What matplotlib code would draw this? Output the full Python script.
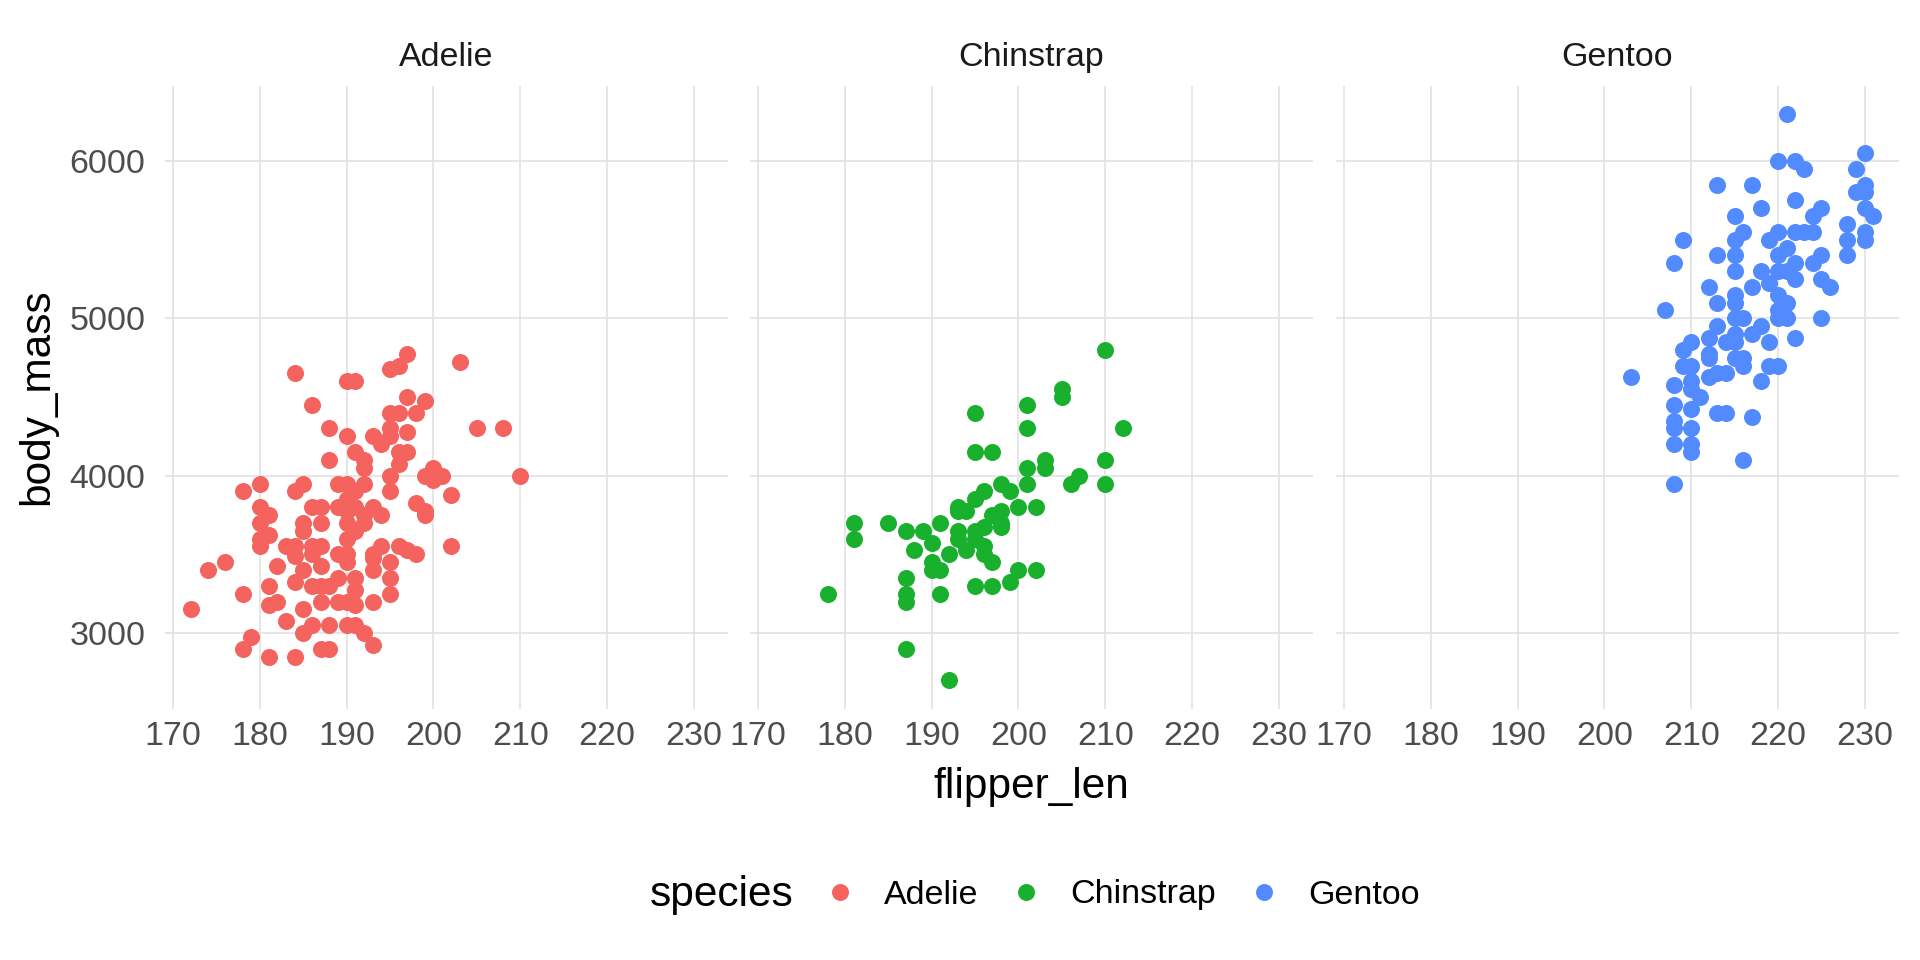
import matplotlib
matplotlib.use("Agg")
import matplotlib.pyplot as plt
from matplotlib.lines import Line2D

plt.rcParams['font.family'] = ['Liberation Sans', 'DejaVu Sans']

# Dados (flipper_len, body_mass) por espécie
species = ['Adelie', 'Chinstrap', 'Gentoo']
colors = ['#F4635E', '#19B02E', '#528AFF']

adelie_flipper = [184, 186, 188, 188, 180, 178, 184, 185, 189, 180, 186, 187, 189, 181,
                  180, 185, 187, 181, 180, 185, 180, 183, 184, 186, 187, 184, 186, 189,
                  187, 176, 174, 182, 185, 184, 181, 186, 187, 188, 189, 178, 172, 181,
                  182, 183, 185, 187, 189, 185, 186, 188, 179, 178, 181, 184, 187, 188,
                  197, 196, 195, 203, 190, 191, 197, 199, 198, 195, 196, 190, 205, 208,
                  193, 194, 195, 195, 197, 191, 192, 192, 196, 197, 196, 195, 192, 195,
                  199, 200, 200, 201, 210, 202, 198, 199, 199, 190, 190, 191, 190, 190,
                  193, 194, 192, 194, 193, 196, 197, 198, 202, 193, 193, 195, 190, 191,
                  191, 195, 195, 190, 191, 193, 190, 191, 192, 193, 191, 190, 191, 192, 190]
adelie_mass = [4650, 4450, 4300, 4100, 3950, 3900, 3900, 3950, 3950, 3800, 3800, 3800, 3800, 3750,
               3700, 3700, 3700, 3625, 3600, 3650, 3550, 3550, 3550, 3550, 3550, 3490, 3500, 3500,
               3425, 3450, 3400, 3425, 3400, 3325, 3300, 3300, 3300, 3300, 3350, 3250, 3150, 3175,
               3200, 3075, 3150, 3200, 3200, 3000, 3050, 3050, 2975, 2900, 2850, 2850, 2900, 2900,
               4775, 4700, 4675, 4725, 4600, 4600, 4500, 4475, 4400, 4400, 4400, 4250, 4300, 4300,
               4250, 4200, 4300, 4250, 4275, 4150, 4100, 4050, 4150, 4150, 4075, 4000, 3950, 3900,
               4000, 4050, 3975, 4000, 4000, 3875, 3825, 3775, 3750, 3950, 3850, 3800, 3700, 3600,
               3800, 3750, 3750, 3550, 3500, 3550, 3525, 3500, 3550, 3475, 3400, 3450, 3450, 3350,
               3275, 3350, 3250, 3200, 3175, 3200, 3050, 3050, 3000, 2925, 3900, 3775, 3650, 3700, 3500]

chinstrap_flipper = [210, 205, 205, 201, 201, 212, 195, 195, 197, 203, 203, 201, 210, 210,
                     207, 206, 201, 198, 199, 196, 195, 193, 194, 193, 200, 202, 197, 198,
                     198, 198, 181, 181, 185, 187, 189, 191, 190, 188, 193, 193, 195, 196,
                     195, 192, 194, 196, 196, 197, 190, 190, 191, 200, 202, 187, 187, 187,
                     178, 191, 195, 197, 199, 187, 192]
chinstrap_mass = [4800, 4550, 4500, 4450, 4300, 4300, 4400, 4150, 4150, 4100, 4050, 4050, 4100, 3950,
                  4000, 3950, 3950, 3950, 3900, 3900, 3850, 3800, 3775, 3775, 3800, 3800, 3750, 3775,
                  3700, 3675, 3700, 3600, 3700, 3650, 3650, 3700, 3575, 3525, 3650, 3600, 3650, 3675,
                  3600, 3500, 3525, 3550, 3500, 3450, 3450, 3400, 3400, 3400, 3400, 3350, 3250, 3200,
                  3250, 3250, 3300, 3300, 3325, 2900, 2700]

gentoo_flipper = [221, 220, 222, 223, 230, 229, 213, 217, 230, 229, 230, 222, 218, 230,
                  231, 225, 224, 215, 216, 215, 220, 219, 222, 223, 224, 228, 228, 228,
                  230, 230, 209, 208, 213, 215, 215, 221, 220, 225, 224, 222, 222, 221,
                  220, 218, 219, 217, 225, 226, 212, 213, 215, 215, 207, 220, 221, 220,
                  215, 216, 220, 221, 225, 213, 218, 215, 217, 212, 210, 209, 214, 215,
                  219, 222, 212, 212, 215, 216, 216, 209, 210, 219, 220, 212, 213, 214,
                  218, 203, 208, 210, 210, 211, 208, 210, 213, 214, 217, 208, 208, 210,
                  208, 210, 210, 216, 208]
gentoo_mass = [6300, 6000, 6000, 5950, 6050, 5950, 5850, 5850, 5850, 5800, 5800, 5750, 5700, 5700,
               5650, 5700, 5650, 5650, 5550, 5500, 5550, 5500, 5550, 5550, 5550, 5600, 5500, 5400,
               5550, 5500, 5500, 5350, 5400, 5400, 5300, 5450, 5400, 5400, 5350, 5350, 5250, 5300,
               5300, 5300, 5225, 5200, 5250, 5200, 5200, 5100, 5150, 5100, 5050, 5150, 5100, 5050,
               5000, 5000, 5000, 5000, 5000, 4950, 4950, 4900, 4900, 4875, 4850, 4800, 4850, 4850,
               4850, 4875, 4775, 4750, 4750, 4750, 4700, 4700, 4700, 4700, 4700, 4625, 4650, 4650,
               4600, 4625, 4575, 4600, 4550, 4500, 4450, 4425, 4400, 4400, 4375, 4350, 4300, 4300,
               4200, 4200, 4150, 4100, 3950]

x_ticks = [170, 180, 190, 200, 210, 220, 230]
y_ticks = [3000, 4000, 5000, 6000]

flippers = [adelie_flipper, chinstrap_flipper, gentoo_flipper]
masses = [adelie_mass, chinstrap_mass, gentoo_mass]

# --- Figura ---
W, H = 1920, 960
fig = plt.figure(figsize=(W / 100, H / 100), dpi=100)

panel_left = [165, 750, 1336]
panel_w = 563
panel_top, panel_bottom = 85.5, 708.5

small = 24.5   # textos dos eixos / facetas / legenda
big = 30.5     # títulos dos eixos e da legenda
grid_c = '#E2E2E2'
tick_c = '#4D4D4D'

for i, name in enumerate(species):
    ax = fig.add_axes([panel_left[i] / W, 1 - panel_bottom / H,
                       panel_w / W, (panel_bottom - panel_top) / H])
    ax.scatter(flippers[i], masses[i], s=150, color=colors[i], linewidths=0, zorder=3)
    ax.set_xlim(169.05, 233.95)
    ax.set_ylim(2520, 6480)
    ax.set_xticks(x_ticks)
    ax.set_yticks(y_ticks)
    ax.grid(True, color=grid_c, linewidth=1.2)
    ax.set_axisbelow(True)
    for s in ax.spines.values():
        s.set_visible(False)
    ax.tick_params(length=0, labelsize=small, labelcolor=tick_c)
    ax.tick_params(axis='x', pad=9)
    ax.tick_params(axis='y', pad=14)
    if i > 0:
        ax.set_yticklabels([])
    ax.set_title(name, fontsize=small, color='#1A1A1A', pad=14)

# Títulos dos eixos
fig.text(1031 / W, 1 - 798 / H, 'flipper_len', fontsize=big, ha='center', va='baseline')
fig.text(37 / W, 1 - 397 / H, 'body_mass', fontsize=big, ha='center', va='center', rotation=90)

# Legenda na parte de baixo
fig.text(650 / W, 1 - 906 / H, 'species', fontsize=big, ha='left', va='baseline')
handles = [Line2D([], [], marker='o', linestyle='none', markersize=12.2,
                  markerfacecolor=c, markeredgewidth=0) for c in colors]
fig.legend(handles, species, ncol=3, loc='center left',
           bbox_to_anchor=(823 / W, 1 - 895 / H), frameon=False, fontsize=small,
           handlelength=1.0, handletextpad=0.8, columnspacing=0.9,
           borderpad=0, borderaxespad=0)

plt.savefig('out.png', dpi=100)
